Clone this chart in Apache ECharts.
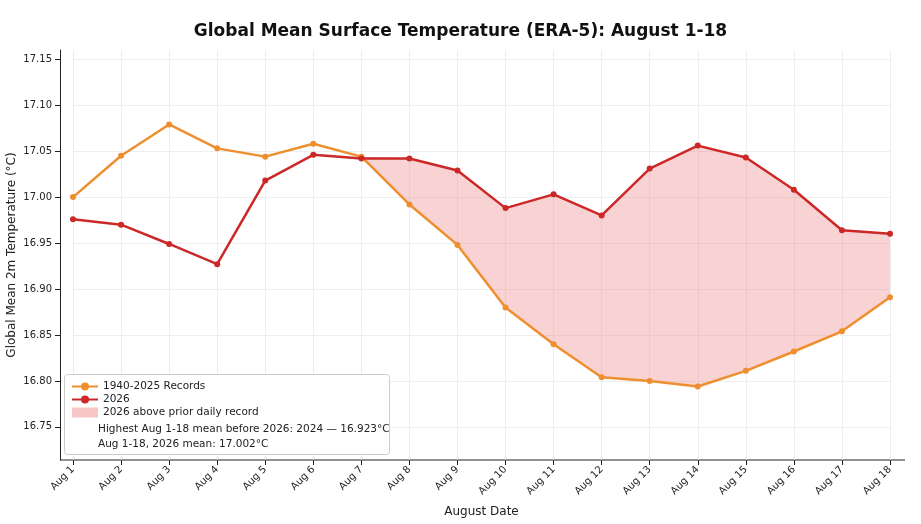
<!DOCTYPE html>
<html><head><meta charset="utf-8">
<script src="https://cdn.jsdelivr.net/npm/echarts@6/dist/echarts.min.js"></script>
<style>html,body{margin:0;background:#fff}#c{width:921px;height:524px}</style>
</head><body><div id="c"></div>
<script>
const days = ['Aug 1','Aug 2','Aug 3','Aug 4','Aug 5','Aug 6','Aug 7','Aug 8','Aug 9','Aug 10','Aug 11','Aug 12','Aug 13','Aug 14','Aug 15','Aug 16','Aug 17','Aug 18'];
const records = [17.000,17.045,17.079,17.053,17.044,17.058,17.044,16.992,16.948,16.880,16.840,16.804,16.800,16.794,16.811,16.832,16.854,16.891];
const temps2026 = [16.976,16.970,16.949,16.927,17.018,17.046,17.042,17.042,17.029,16.988,17.003,16.980,17.031,17.056,17.043,17.008,16.964,16.960];
const yTicks = [16.75,16.80,16.85,16.90,16.95,17.00,17.05,17.10,17.15];
const noteLines = ['Highest Aug 1-18 mean before 2026: 2024 — 16.923°C','Aug 1-18, 2026 mean: 17.002°C'];

const FONT = 'DejaVu Sans';
const chart = echarts.init(document.getElementById('c'));
chart.setOption({
  animation: false,
  textStyle: {fontFamily: FONT},
  title: {text: 'Global Mean Surface Temperature (ERA-5): August 1-18', left: 'center', top: 18,
    textStyle: {fontFamily: FONT, fontSize: 17, fontWeight: 'bold', color: '#111'}},
  grid: {left: 73, right: 31, top: 50, bottom: 64, outerBoundsMode: 'none'},
  xAxis: {type: 'category', data: days, boundaryGap: false,
    name: 'August Date', nameLocation: 'middle', nameGap: 46, nameTextStyle: {fontSize: 12, color: '#222'},
    axisLine: {show: false},
    axisTick: {lineStyle: {color: '#222'}},
    axisLabel: {rotate: 45, fontSize: 10, color: '#222', interval: 0},
    splitLine: {show: true, lineStyle: {color: '#eee'}}},
  yAxis: {type: 'value', min: 16.714, max: 17.16, offset: 13,
    name: 'Global Mean 2m Temperature (°C)', nameLocation: 'middle', nameGap: 42, nameMoveOverlap: false,
    nameTextStyle: {fontSize: 12, color: '#222'},
    axisLine: {show: true, lineStyle: {color: '#222'}},
    axisTick: {show: true, customValues: yTicks, lineStyle: {color: '#222'}},
    axisLabel: {customValues: yTicks, fontSize: 10, color: '#222', formatter: v => v.toFixed(2)},
    splitLine: {show: true, lineStyle: {color: '#eee'}}},
  legend: {orient: 'vertical', left: 66, top: 376, itemGap: 2, itemWidth: 26, itemHeight: 10, z: 30,
    textStyle: {fontSize: 10.5, color: '#222'},
    data: ['1940-2025 Records', '2026', {name: '2026 above prior daily record', icon: 'rect'}]},
  graphic: [
    {type: 'line', shape: {x1: 60, y1: 460, x2: 905, y2: 460}, style: {stroke: '#222', lineWidth: 1}},
    {type: 'rect', left: 64, top: 374, shape: {width: 325, height: 80, r: 3},
      style: {fill: 'rgba(255,255,255,0.85)', stroke: '#ccc'}, z: 10},
    {type: 'text', left: 98, top: 424, z: 11, style: {text: noteLines[0], fontSize: 10.5, fill: '#222', fontFamily: FONT}},
    {type: 'text', left: 98, top: 439, z: 11, style: {text: noteLines[1], fontSize: 10.5, fill: '#222', fontFamily: FONT}}
  ],
  series: [
    {name: 'base', type: 'line', stack: 'f', data: records, symbol: 'none',
      lineStyle: {opacity: 0}, silent: true, z: 1},
    {name: '2026 above prior daily record', type: 'line', stack: 'f', symbol: 'none',
      data: records.map((r, i) => Math.max(temps2026[i] - r, 0)),
      lineStyle: {opacity: 0}, itemStyle: {color: '#f7c6c6'}, areaStyle: {color: 'rgba(240,140,140,0.38)', opacity: 1}, z: 1},
    {name: '1940-2025 Records', type: 'line', data: records,
      symbol: 'circle', symbolSize: 6, color: '#ee8f2f', lineStyle: {width: 2.5}, z: 3},
    {name: '2026', type: 'line', data: temps2026,
      symbol: 'circle', symbolSize: 6, color: '#cc2828', lineStyle: {width: 2.5}, z: 4}
  ]
});
</script></body></html>
